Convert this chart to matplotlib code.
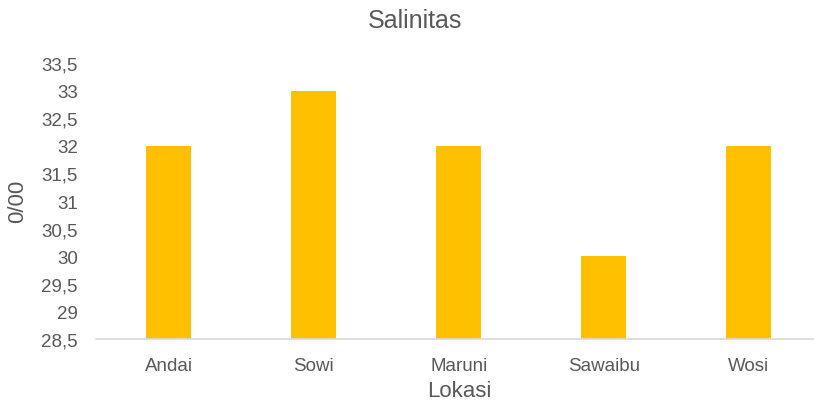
import numpy as np
import matplotlib
matplotlib.use('Agg')
import matplotlib.pyplot as plt
from matplotlib.ticker import FuncFormatter

lokasi = ['Andai', 'Sowi', 'Maruni', 'Sawaibu', 'Wosi']
salinitas = [32, 33, 32, 30, 32]
yticks = np.arange(28.5, 33.51, 0.5)

plt.rcParams['font.family'] = ['Liberation Sans', 'DejaVu Sans']
grey = '#595959'

fig = plt.figure(figsize=(8.14, 4.02), dpi=100)
ax = fig.add_axes([96/814, 62/402, 1 - 96/814, (340 - 64)/402])

x = np.arange(len(lokasi))
ax.bar(x, salinitas, width=0.31, color='#FFC000', bottom=0)
ax.set_xlim(-0.5, 4.45)
ax.set_ylim(28.5, 33.5)
ax.set_yticks(yticks)
ax.yaxis.set_major_formatter(FuncFormatter(lambda v, p: ('%g' % v).replace('.', ',')))
ax.set_xticks(x)
ax.set_xticklabels(lokasi)

for s in ['top', 'right', 'left']:
    ax.spines[s].set_visible(False)
ax.spines['bottom'].set_color('#d9d9d9')
ax.spines['bottom'].set_linewidth(1.2)
ax.tick_params(axis='both', length=0, labelsize=13.5, colors=grey)
ax.tick_params(axis='x', pad=13)
ax.tick_params(axis='y', pad=13)

# titles placed in figure pixels
fig.text(415/814, 1 - 21/402, 'Salinitas', fontsize=18, color=grey, ha='center', va='center')
fig.text(459/814, 1 - 392/402, 'Lokasi', fontsize=16, color=grey, ha='center', va='center')
fig.text(18/814, 1 - 201/402, '0/00', fontsize=16, color=grey, ha='center', va='center', rotation=90)

fig.savefig('out.png', dpi=100)
